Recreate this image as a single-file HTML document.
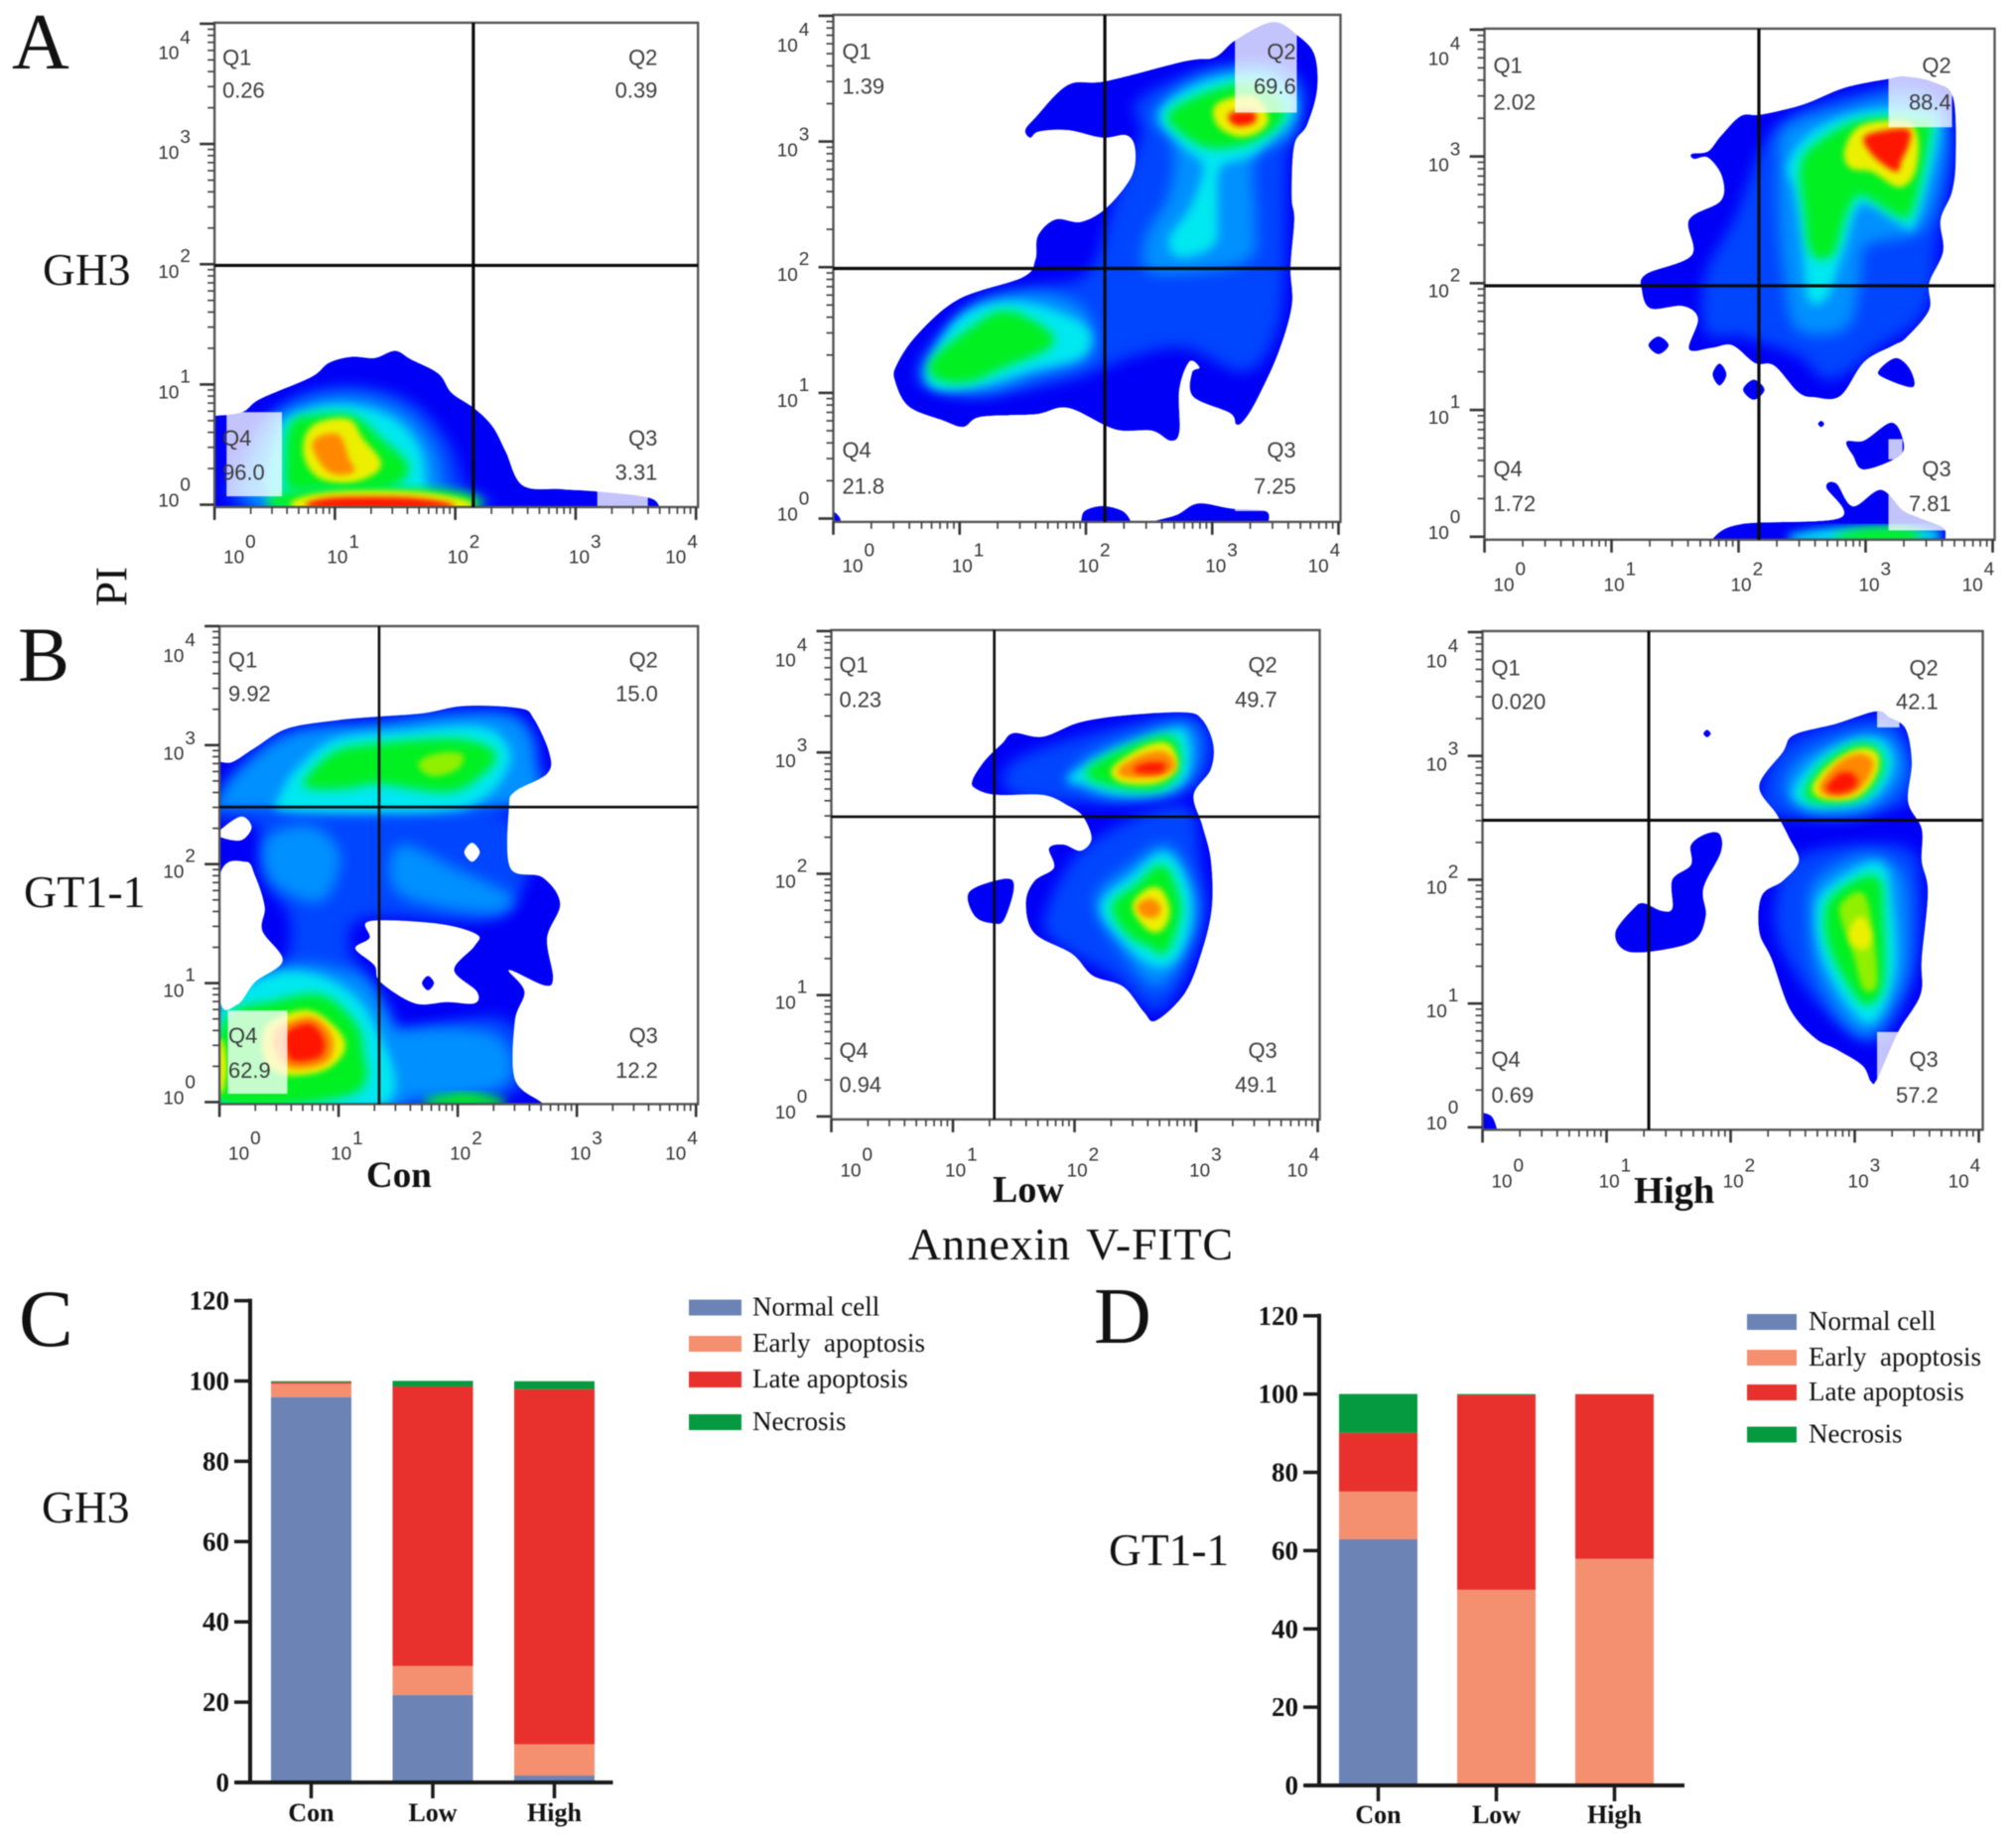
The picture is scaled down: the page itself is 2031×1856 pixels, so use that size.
<!DOCTYPE html>
<html lang="en">
<head>
<meta charset="utf-8">
<title>Flow cytometry apoptosis panels</title>
<style>
html,body{margin:0;padding:0;background:#fff;}
svg{display:block;filter:blur(0.6px);}
.serif{font-family:"Liberation Serif",serif;fill:#111;}
.sans{font-family:"Liberation Sans",sans-serif;}
.pre{white-space:pre;}
</style>
</head>
<body>
<svg id="figure" xmlns="http://www.w3.org/2000/svg" width="2031" height="1856" viewBox="0 0 2031 1856">
<defs>
<filter id="blur-a" x="-50%" y="-50%" width="200%" height="200%"><feGaussianBlur stdDeviation="7"/></filter>
<filter id="blur-b" x="-50%" y="-50%" width="200%" height="200%"><feGaussianBlur stdDeviation="5"/></filter>
<filter id="blur-c" x="-50%" y="-50%" width="200%" height="200%"><feGaussianBlur stdDeviation="3"/></filter>
</defs>
<rect x="0" y="0" width="2031" height="1856" fill="#fff"/>
<g id="flow-layer"></g>
<g id="bar-layer"></g>
<text class="serif" x="12" y="69" font-size="80">A</text>
<text class="serif" x="18" y="686" font-size="78">B</text>
<text class="serif" x="19" y="1356" font-size="82">C</text>
<text class="serif" x="1102" y="1353" font-size="80">D</text>
<text class="serif" x="43" y="287" font-size="45.5">GH3</text>
<text class="serif" x="24" y="914" font-size="46">GT1-1</text>
<text class="serif" x="42" y="1534" font-size="45.5">GH3</text>
<text class="serif" x="1117" y="1577" font-size="45.5">GT1-1</text>
<text class="serif" x="0" y="0" font-size="45" text-anchor="middle" transform="translate(127.5 591) rotate(-90)">PI</text>
<text class="serif" x="369" y="1196" font-size="37" font-weight="bold">Con</text>
<text class="serif" x="1000" y="1211" font-size="38" font-weight="bold">Low</text>
<text class="serif" x="1646" y="1212" font-size="38.5" font-weight="bold">High</text>
<text class="serif" x="915" y="1269" font-size="46" word-spacing="4" textLength="327">Annexin V-FITC</text>
</svg>
<script>
/* ---------- stacked bar data (percent of cells) ---------- */
const barCategories = ['Con', 'Low', 'High'];
const barSeriesNames = ['Normal cell', 'Early  apoptosis', 'Late apoptosis', 'Necrosis'];
const barTicks = [0, 20, 40, 60, 80, 100, 120];
const gh3Normal = [96.0, 21.8, 1.72];
const gh3Early = [3.31, 7.25, 7.81];
const gh3Late = [0.39, 69.6, 88.4];
const gh3Necrosis = [0.26, 1.39, 2.02];
const gt1Normal = [62.9, 0, 0];
const gt1Early = [12.2, 50.0, 57.9];
const gt1Late = [15.0, 49.77, 42.08];
const gt1Necrosis = [9.92, 0.23, 0.02];

/* ---------- flow plot data: decades on both axes (log10) ---------- */
const logTicks = [0, 1, 2, 3, 4];
const a1Percent = ['0.26', '0.39', '3.31', '96.0'];
const a2Percent = ['1.39', '69.6', '7.25', '21.8'];
const a3Percent = ['2.02', '88.4', '7.81', '1.72'];
const b1Percent = ['9.92', '15.0', '12.2', '62.9'];
const b2Percent = ['0.23', '49.7', '49.1', '0.94'];
const b3Percent = ['0.020', '42.1', '57.2', '0.69'];
const a1Gate = [2.15, 1.99];
const a2Gate = [2.15, 1.99];
const a3Gate = [2.16, 1.98];
const b1Gate = [1.34, 2.48];
const b2Gate = [1.34, 2.47];
const b3Gate = [1.34, 2.48];

const a1Outer = [
 [[-.1,-.1],[-.1,.74],[0,.74],[.23,.77],[.38,.88],[.8,1.06],[.95,1.18],[1.14,1.23],[1.33,1.22],[1.5,1.28],[1.63,1.21],[1.86,1.09],[1.97,.93],[2.16,.8],[2.31,.65],[2.42,.44],[2.56,.16],[2.88,.13],[3.18,.11],[3.6,.06],[3.7,-.02],[3.72,-.1]]
];
const a1Levels = [
 ['a',[[.27,-.02],[.34,.54],[.68,.87],[1.17,.96],[1.63,.83],[1.93,.5],[2.05,.15],[2.16,-.02]]],
 ['b',[[.4,-.02],[.42,.58],[.72,.82],[1.15,.88],[1.55,.76],[1.8,.47],[1.9,.1],[2.08,-.02]]],
 ['c',[[.57,-.02],[.55,.6],[.8,.77],[1.14,.8],[1.48,.69],[1.69,.44],[1.76,.08],[2,-.02]]],
 ['g',[[.61,.28],[.64,.64],[.8,.72],[1.14,.72],[1.36,.54],[1.59,.31],[1.4,.15],[.87,.15],[.64,.15]]],
 ['y',[[.76,.44],[.83,.64],[1.1,.69],[1.21,.54],[1.36,.33],[1.14,.21],[.87,.25]]],
 ['o',[[.83,.51],[1.02,.57],[1.1,.38],[1.14,.28],[.95,.29]]],
 ['g',[[.57,-.02],[.72,.1],[1.9,.1],[2.1,-.02]]],
 ['y',[[.72,-.02],[.95,.08],[1.71,.08],[2.08,-.02]]],
 ['r',[[.83,-.02],[.98,.05],[1.63,.05],[1.95,-.02]]]
];
const a1Holes = [];
const a1Islands = [];
const a1Boxes = [[.1,.07,.56,.77],[3.18,-.02,3.6,.12]];

const a2Outer = [
 [[1.52,3.09],[1.6,3.19],[1.86,3.45],[2.16,3.48],[2.79,3.64],[3.02,3.67],[3.19,3.81],[3.48,3.95],[3.68,3.84],[3.81,3.69],[3.83,3.41],[3.75,3.13],[3.65,2.97],[3.63,2.56],[3.65,2.38],[3.62,2],[3.63,1.69],[3.52,1.31],[3.35,.94],[3.25,.78],[3.19,.75],[3.14,.84],[2.85,.97],[2.84,1.16],[2.9,1.2],[2.82,1.25],[2.74,1.03],[2.74,.69],[2.67,.62],[2.52,.7],[2.23,.71],[1.86,.88],[1.6,.83],[1.17,.81],[1.03,.73],[.87,.78],[.6,.89],[.49,1.09],[.5,1.22],[.67,1.47],[1,1.75],[1.5,1.92],[1.6,2.06],[1.62,2.25],[1.76,2.38],[1.96,2.36],[2.16,2.47],[2.36,2.72],[2.39,2.94],[2.32,3.05],[2.13,3.03],[1.86,3.09],[1.63,3.08],[1.56,3.03]],
 [[1.94,-.1],[1.96,-.03],[1.99,.06],[2.13,.1],[2.29,.06],[2.36,-.03],[2.38,-.1]],
 [[2.5,-.1],[2.52,-.03],[2.72,.03],[2.89,.12],[3.15,.08],[3.42,.06],[3.45,-.03],[3.47,-.1]],
 [[-.03,-.03],[0,.05],[.05,.01],[.05,-.03]]
];
const a2Levels = [
 ['a',[[.7,1.19],[1.1,1.66],[1.56,1.81],[2.03,1.94],[2.26,2.56],[2.46,3.06],[2.42,3.31],[2.89,3.53],[3.48,3.59],[3.72,3.38],[3.58,3.03],[3.55,1.94],[3.48,1.47],[3.25,1.19],[2.79,1.38],[2.36,1.31],[1.89,1.13],[1.2,1],[.83,1.03]]],
 ['b',[[.74,1.22],[1.1,1.66],[1.56,1.78],[1.96,1.66],[2.03,1.31],[1.63,1.16],[1.2,1.03],[.83,1.09]]],
 ['b',[[2.56,3.22],[2.92,3.5],[3.48,3.56],[3.66,3.31],[3.62,3.06],[3.32,2.88],[3.32,2.38],[3.25,2.06],[2.55,1.98],[2.49,2.22],[2.66,2.53],[2.72,2.81],[2.69,3.03]]],
 ['c',[[.77,1.19],[1.03,1.59],[1.46,1.7],[1.96,1.53],[1.96,1.31],[1.56,1.2],[1.17,1.08],[.83,1.05]]],
 ['g',[[.8,1.25],[1.1,1.5],[1.36,1.63],[1.66,1.5],[1.7,1.38],[1.36,1.23],[1.07,1.11],[.83,1.13]]],
 ['c',[[2.61,3.22],[2.95,3.45],[3.42,3.5],[3.63,3.25],[3.32,2.92],[3.05,2.81],[3.02,2.47],[3,2.2],[2.76,2.1],[2.68,2.22],[2.85,2.47],[2.95,2.81],[2.79,2.97]]],
 ['g',[[2.68,3.22],[2.99,3.38],[3.35,3.44],[3.55,3.22],[3.32,3.02],[2.99,2.97],[2.76,3.09]]],
 ['y',[[3.05,3.28],[3.32,3.34],[3.42,3.16],[3.25,3.06],[3.07,3.13]]],
 ['r',[[3.15,3.22],[3.32,3.23],[3.33,3.16],[3.22,3.13],[3.15,3.16]]]
];
const a2Holes = [];
const a2Islands = [];
const a2Boxes = [[3.18,3.23,3.67,4],[3.18,.06,3.42,.14]];

const a3Outer = [
 [[1.63,3.02],[1.76,3.04],[1.86,3.16],[2.02,3.32],[2.18,3.33],[2.51,3.41],[2.83,3.54],[3.17,3.61],[3.32,3.63],[3.55,3.58],[3.69,3.46],[3.71,2.99],[3.68,2.72],[3.59,2.5],[3.61,2.25],[3.5,2],[3.5,1.79],[3.32,1.57],[3.22,1.51],[2.99,1.38],[2.8,1.11],[2.6,1.1],[2.47,1.14],[2.28,1.35],[2.13,1.37],[1.95,1.51],[1.79,1.49],[1.61,1.48],[1.68,1.72],[1.56,1.82],[1.31,1.8],[1.24,1.94],[1.27,2.07],[1.63,2.22],[1.61,2.5],[1.86,2.65],[1.87,2.84],[1.76,2.99],[1.65,2.98]],
 [[1.29,1.51],[1.37,1.58],[1.45,1.51],[1.37,1.44]],
 [[1.795,1.28],[1.85,1.367],[1.905,1.28],[1.85,1.193]],
 [[2.035,1.16],[2.12,1.24],[2.205,1.16],[2.12,1.08]],
 [[3.11,1.32],[3.24,1.41],[3.35,1.32],[3.37,1.18],[3.13,1.26]],
 [[2.625,.89],[2.65,.915],[2.675,.89],[2.65,.865]],
 [[2.85,.75],[2.99,.76],[3.2,.9],[3.29,.78],[3.27,.64],[2.99,.53],[2.9,.64]],
 [[1.77,-.1],[1.79,-.02],[2.02,.1],[2.8,.15],[2.69,.39],[2.77,.42],[2.9,.24],[3.12,.37],[3.29,.21],[3.42,.15],[3.61,.07],[3.63,-.02],[3.65,-.1]]
];
const a3Levels = [
 ['a',[[1.76,2.07],[1.99,2.5],[2.31,3.21],[2.99,3.49],[3.48,3.49],[3.65,2.99],[3.55,2.38],[3.45,1.79],[3.09,1.51],[2.73,1.26],[2.47,1.45],[2.02,1.6],[1.76,1.63]]],
 ['b',[[2.34,2.93],[2.38,3.21],[2.83,3.37],[3.32,3.46],[3.61,3.33],[3.58,2.87],[3.42,2.44],[2.99,2.31],[2.93,2],[2.83,1.66],[2.47,1.66],[2.38,2.07],[2.34,2.5]]],
 ['c',[[2.41,2.93],[2.6,3.18],[2.99,3.33],[3.45,3.33],[3.55,3.18],[3.38,2.5],[3.29,2.48],[2.96,2.65],[2.82,2.31],[2.72,2],[2.66,1.88],[2.57,1.88],[2.54,2.13],[2.5,2.5],[2.46,2.75]]],
 ['g',[[2.51,2.93],[2.67,3.12],[2.99,3.27],[3.45,3.27],[3.48,3.15],[3.35,2.59],[3.25,2.56],[2.96,2.72],[2.83,2.56],[2.73,2.25],[2.59,2.25],[2.54,2.56]]],
 ['y',[[2.86,3.06],[2.99,3.23],[3.35,3.23],[3.38,2.93],[3.27,2.78],[3.06,2.9],[2.89,2.93]]],
 ['r',[[3.01,3.16],[3.32,3.21],[3.33,3.09],[3.27,2.96],[3.25,2.89],[3.16,2.93],[3.04,3.04]]],
 ['c',[[2.44,-.02],[2.77,.05],[3.45,.05],[3.48,-.02]]],
 ['g',[[2.8,-.02],[2.99,.04],[3.29,.05],[3.38,-.02]]]
];
const a3Holes = [];
const a3Islands = [];
const a3Boxes = [[3.18,3.23,3.68,3.66],[3.18,.61,3.29,.77],[3.18,.05,3.65,.37]];

const b1Outer = [
 [[-.1,-.1],[-.1,2.86],[0,2.86],[.11,2.86],[.3,2.98],[.57,3.14],[.99,3.21],[1.33,3.24],[1.72,3.27],[2.06,3.33],[2.52,3.31],[2.64,3.22],[2.77,2.93],[2.75,2.76],[2.48,2.61],[2.43,2.47],[2.44,1.97],[2.71,1.89],[2.86,1.67],[2.75,1.38],[2.8,1.05],[2.73,.98],[2.43,1.11],[2.56,.93],[2.48,.68],[2.48,.19],[2.71,-.01],[2.73,-.1]]
];
const b1Levels = [
 ['a',[[.07,2.4],[2.37,2.4],[2.37,1.6],[1.22,1.57],[1.07,1.27],[1.22,1.03],[1.3,.55],[2.37,.68],[2.41,.09],[0,0],[0,.78],[.53,1.11],[.61,1.55],[.41,1.87],[.34,2.33]]],
 ['b',[[.41,2.2],[.76,2.3],[.99,2.07],[.84,1.71],[.45,1.87]]],
 ['b',[[1.52,2.14],[1.98,1.94],[2.44,1.71],[2.21,1.61],[1.52,1.77]]],
 ['b',[[1.45,.55],[2.29,.55],[2.37,.155],[1.52,.09]]],
 ['b',[[0,2.53],[.15,2.76],[.6,3.09],[1.33,3.17],[1.98,3.25],[2.48,3.22],[2.64,2.89],[2.41,2.5],[0,2.47]]],
 ['c',[[.53,2.56],[.68,2.8],[.99,3.03],[1.52,3.09],[2.18,3.13],[2.41,2.96],[2.37,2.76],[2.18,2.56],[1.83,2.47],[.61,2.47]]],
 ['g',[[.76,2.73],[.99,2.93],[1.33,2.99],[1.98,3.03],[2.29,2.93],[2.18,2.76],[1.91,2.63],[1.33,2.7],[1.07,2.66],[.76,2.66]]],
 ['l',[[1.69,2.84],[1.83,2.91],[2.02,2.91],[1.98,2.81],[1.79,2.76]]],
 ['b',[[0,.85],[.45,1.11],[.95,1.11],[1.33,.88],[1.52,0],[0,0]]],
 ['c',[[0,.72],[.45,1.05],[.91,1.01],[1.26,.68],[1.37,0],[0,0]]],
 ['g',[[.07,.68],[.45,.82],[.84,.88],[1.1,.68],[1.18,.45],[1.1,.09],[0,.02]]],
 ['g',[[1.75,-.01],[2.06,.06],[2.37,-.01]]],
 ['y',[[.41,.62],[.72,.75],[.95,.62],[1.03,.45],[.87,.29],[.57,.25],[.41,.35]]],
 ['y',[[0,.5],[.04,.3],[0,.1]]],
 ['o',[[.49,.6],[.76,.7],[.93,.55],[.89,.35],[.61,.3],[.49,.42]]],
 ['r',[[.57,.58],[.76,.65],[.87,.52],[.84,.39],[.64,.35],[.57,.42]]]
];
const b1Holes = [
 [[0,2.28],[.18,2.4],[.27,2.31],[.18,2.2],[0,2.23]],
 [[0,1.89],[.22,2.02],[.3,1.9],[.38,1.64],[.36,1.44],[.53,1.19],[.3,1.01],[.15,.82],[0,.88]],
 [[1.26,1.52],[1.83,1.5],[2.16,1.41],[2.14,1.31],[1.97,1.11],[2.16,.93],[2.14,.83],[1.91,.84],[1.64,.83],[1.35,1.01],[1.3,1.15],[1.14,1.29],[1.26,1.38]],
 [[2.055,2.1],[2.12,2.18],[2.185,2.1],[2.12,2.02]]
];
const b1Islands = [[[1.7,1],[1.75,1.06],[1.8,1],[1.75,.94]]];
const b1Boxes = [[.07,.07,.57,.77]];

const b2Outer = [
 [[1.16,2.77],[1.26,2.93],[1.4,3.07],[1.5,3.16],[1.74,3.13],[2.05,3.25],[2.46,3.31],[2.91,3.33],[3.05,3.27],[3.14,3.07],[3.12,2.86],[2.98,2.65],[3.05,2.4],[3.12,2.12],[3.13,1.73],[3.05,1.37],[2.91,1.02],[2.67,.79],[2.57,.86],[2.4,1.07],[2.15,1.16],[1.98,1.34],[1.67,1.51],[1.6,1.76],[1.67,1.94],[1.83,2.05],[1.79,2.21],[1.91,2.24],[2.05,2.19],[2.14,2.29],[2.07,2.47],[1.95,2.56],[1.74,2.65],[1.36,2.65],[1.19,2.7]],
 [[1.12,1.8],[1.19,1.89],[1.45,1.96],[1.5,1.87],[1.42,1.62],[1.33,1.59],[1.19,1.64]]
];
const b2Levels = [
 ['a',[[1.5,2.9],[2.05,3.11],[2.81,3.27],[3.08,3.18],[3.05,2.83],[2.77,2.65],[2.12,2.61],[1.5,2.68]]],
 ['b',[[1.98,2.79],[2.19,2.99],[2.81,3.22],[2.98,3.15],[2.98,2.9],[2.77,2.69],[2.29,2.65],[2.02,2.76]]],
 ['c',[[1.98,2.79],[2.33,2.99],[2.81,3.16],[2.91,3.11],[2.91,2.83],[2.74,2.7],[2.36,2.68],[2.05,2.77]]],
 ['g',[[2.12,2.84],[2.46,3.03],[2.79,3.11],[2.84,2.86],[2.67,2.72],[2.33,2.74]]],
 ['y',[[2.33,2.86],[2.57,3.02],[2.76,3.05],[2.82,2.88],[2.67,2.77],[2.41,2.77]]],
 ['o',[[2.38,2.86],[2.57,2.97],[2.74,2.99],[2.81,2.88],[2.67,2.81],[2.43,2.81]]],
 ['r',[[2.5,2.87],[2.62,2.91],[2.74,2.9],[2.7,2.84],[2.53,2.84]]],
 ['a',[[1.78,1.66],[2.12,2.22],[2.88,2.54],[3.01,2.08],[3.05,1.69],[2.91,1.2],[2.67,.89],[2.36,1.16],[1.88,1.44]]],
 ['b',[[2.19,1.76],[2.46,2.05],[2.74,2.22],[2.91,2.01],[2.99,1.66],[2.84,1.27],[2.67,1.09],[2.46,1.3]]],
 ['c',[[2.24,1.73],[2.5,1.98],[2.74,2.15],[2.91,1.9],[2.93,1.59],[2.81,1.3],[2.64,1.27],[2.43,1.44]]],
 ['g',[[2.33,1.73],[2.53,1.9],[2.72,2.05],[2.84,1.8],[2.84,1.62],[2.74,1.37],[2.64,1.41],[2.46,1.51]]],
 ['y',[[2.5,1.73],[2.6,1.85],[2.7,1.85],[2.76,1.69],[2.7,1.55],[2.6,1.57]]],
 ['o',[[2.53,1.73],[2.62,1.78],[2.69,1.73],[2.67,1.66],[2.58,1.66]]]
];
const b2Holes = [];
const b2Islands = [];
const b2Boxes = [];

const b3Outer = [
 [[2.23,2.76],[2.42,3.03],[2.51,3.17],[2.85,3.26],[3.17,3.36],[3.28,3.31],[3.41,3.22],[3.46,2.95],[3.43,2.63],[3.54,2.41],[3.54,2.15],[3.59,1.9],[3.54,1.36],[3.53,1.07],[3.35,.77],[3.18,.39],[3.13,.37],[3.06,.5],[2.85,.63],[2.68,.72],[2.48,.95],[2.33,1.36],[2.23,1.58],[2.25,1.87],[2.42,1.99],[2.55,2.15],[2.47,2.34],[2.37,2.53]],
 [[1.07,1.57],[1.22,1.77],[1.3,1.81],[1.44,1.75],[1.53,1.77],[1.53,2],[1.68,2.12],[1.68,2.28],[1.8,2.37],[1.91,2.37],[1.92,2.22],[1.78,1.93],[1.8,1.71],[1.72,1.52],[1.49,1.44],[1.17,1.42]],
 [[1.78,3.18],[1.81,3.21],[1.84,3.18],[1.81,3.15]],
 [[-.1,-.1],[-.1,.1],[.06,.1],[.12,-.02],[.14,-.1]]
];
const b3Levels = [
 ['a',[[2.28,2.76],[2.51,3.12],[3.17,3.29],[3.39,3.14],[3.38,2.63],[2.42,2.53]]],
 ['b',[[2.45,2.76],[2.62,3],[3.05,3.17],[3.31,3.11],[3.36,2.83],[3.08,2.57],[2.62,2.57]]],
 ['c',[[2.53,2.72],[2.71,2.95],[2.98,3.1],[3.21,3.1],[3.28,2.91],[3.11,2.66],[2.75,2.6],[2.58,2.63]]],
 ['g',[[2.62,2.72],[2.75,2.91],[2.98,3.06],[3.14,3.06],[3.21,2.91],[3.06,2.69],[2.81,2.64],[2.65,2.66]]],
 ['y',[[2.68,2.74],[2.81,2.91],[3.01,3.03],[3.16,3.01],[3.15,2.85],[3.01,2.69],[2.78,2.67]]],
 ['o',[[2.73,2.75],[2.85,2.91],[3.01,3],[3.13,2.96],[3.1,2.83],[2.98,2.71],[2.8,2.69]]],
 ['r',[[2.78,2.75],[2.88,2.85],[2.98,2.85],[3.01,2.77],[2.91,2.71],[2.81,2.71]]],
 ['a',[[2.38,1.8],[2.58,2.18],[3.38,2.25],[3.51,1.93],[3.48,1.36],[3.38,1.04],[3.15,.72],[2.78,.95],[2.45,1.42]]],
 ['b',[[2.65,1.68],[2.71,1.99],[3.08,2.18],[3.35,2.06],[3.41,1.68],[3.38,1.2],[3.15,.79],[2.95,.85],[2.71,1.26]]],
 ['c',[[2.71,1.68],[2.78,1.9],[3.18,2.12],[3.28,1.8],[3.3,1.26],[3.15,.88],[2.98,.98],[2.78,1.33]]],
 ['g',[[2.78,1.68],[2.85,1.87],[3.16,2.01],[3.21,1.68],[3.21,1.17],[3.1,1.01],[2.98,1.14],[2.83,1.42]]],
 ['l',[[2.91,1.68],[2.91,1.8],[3.06,1.87],[3.13,1.55],[3.16,1.17],[3.08,1.14],[3.01,1.39]]],
 ['y',[[2.98,1.58],[3.05,1.68],[3.11,1.55],[3.08,1.46],[3,1.49]]]
];
const b3Holes = [];
const b3Islands = [];
const b3Boxes = [[3.18,3.23,3.36,3.37],[3.18,.37,3.36,.77]];

/* ---------- drawing ---------- */
const NS = 'http://www.w3.org/2000/svg';
const levelColors = {a:'#0044ff', b:'#0090ff', c:'#00e8f0', g:'#00f020', l:'#90f000', y:'#ecf000', o:'#ff8800', r:'#ff1800'};
const levelBlur = {a:'blur-a', b:'blur-a', c:'blur-b', g:'blur-b', l:'blur-c', y:'blur-c', o:'blur-c', r:'blur-c'};
const levelGrow = {a:6, b:6, c:6, g:6, l:5, y:6, o:4, r:2};
const minorSteps = [2, 3, 4, 5, 6, 7, 8, 9];
const xLabelShift = [9, -8, -8, -7, -31];
const yLabelShift = [2, 14, 14, 15, 36];

function make(tag, parent, attrs, text) {
  const el = document.createElementNS(NS, tag);
  for (const k in attrs) el.setAttribute(k, attrs[k]);
  if (text !== undefined) el.textContent = text;
  parent.appendChild(el);
  return el;
}

function smooth(points, sx, sy) {
  const p = points.map(q => [sx(q[0]), sy(q[1])]);
  const n = p.length;
  let d = 'M' + p[0][0].toFixed(1) + ' ' + p[0][1].toFixed(1);
  for (let i = 0; i < n; i++) {
    const p0 = p[(i - 1 + n) % n], p1 = p[i], p2 = p[(i + 1) % n], p3 = p[(i + 2) % n];
    const c1x = p1[0] + (p2[0] - p0[0]) / 6, c1y = p1[1] + (p2[1] - p0[1]) / 6;
    const c2x = p2[0] - (p3[0] - p1[0]) / 6, c2y = p2[1] - (p3[1] - p1[1]) / 6;
    d += 'C' + c1x.toFixed(1) + ' ' + c1y.toFixed(1) + ' ' + c2x.toFixed(1) + ' ' + c2y.toFixed(1) + ' ' + p2[0].toFixed(1) + ' ' + p2[1].toFixed(1);
  }
  return d + 'Z';
}

function drawFlowPlot(cfg) {
  const layer = document.getElementById('flow-layer');
  const sx = v => cfg.xt[0] + (cfg.xt[1] - cfg.xt[0]) * v / 4;
  const sy = v => cfg.yt[0] + (cfg.yt[1] - cfg.yt[0]) * v / 4;
  const g = make('g', layer, {transform: 'translate(' + (cfg.origin[0] + cfg.shift[0]) + ' ' + (cfg.origin[1] + cfg.shift[1]) + ') scale(0.996) translate(' + (-cfg.origin[0]) + ' ' + (-cfg.origin[1]) + ')'});
  
  

  const defs = make('defs', g, {});
  const clip = make('clipPath', defs, {id: 'clip-' + cfg.id});
  cfg.outer.forEach(poly => make('path', clip, {d: smooth(poly, sx, sy)}));
  const frameClip = make('clipPath', defs, {id: 'frame-' + cfg.id});
  make('rect', frameClip, {x: cfg.fx[0], y: cfg.fy[0], width: cfg.fx[1] - cfg.fx[0], height: cfg.fy[1] - cfg.fy[0]});

  const framed = make('g', g, {'clip-path': 'url(#frame-' + cfg.id + ')'});
  
  
  const density = make('g', framed, {'clip-path': 'url(#clip-' + cfg.id + ')'});
  
  

  cfg.outer.forEach(poly => {
    const o = make('path', density, {d: smooth(poly, sx, sy), fill: '#0000f6'});
    
    
  });
  cfg.levels.forEach(level => {
    const color = levelColors[level[0]];
    const l = make('path', density, {d: smooth(level[1], sx, sy), fill: color, stroke: color, 'stroke-width': levelGrow[level[0]], filter: 'url(#' + levelBlur[level[0]] + ')'});
    
    
  });
  cfg.holes.forEach(poly => {
    const h = make('path', density, {d: smooth(poly, sx, sy), fill: '#fff'});
    
    
  });
  cfg.islands.forEach(poly => {
    const i = make('path', density, {d: smooth(poly, sx, sy), fill: '#0000f6'});
    
    
  });
  cfg.boxes.forEach(b => {
    const r = make('rect', density, {x: sx(b[0]), y: sy(b[3]), width: sx(b[2]) - sx(b[0]), height: sy(b[1]) - sy(b[3]), fill: '#fff', 'fill-opacity': 0.77});
    
    
  });

  const frame = make('rect', g, {x: cfg.fx[0], y: cfg.fy[0], width: cfg.fx[1] - cfg.fx[0], height: cfg.fy[1] - cfg.fy[0], fill: 'none', stroke: '#555', 'stroke-width': 2.4});
  
  

  const vGate = make('line', g, {x1: sx(cfg.gate[0]), x2: sx(cfg.gate[0]), y1: cfg.fy[0], y2: cfg.fy[1], stroke: '#0a0a0a', 'stroke-width': cfg.gateWidth});
  
  
  const hGate = make('line', g, {x1: cfg.fx[0], x2: cfg.fx[1], y1: sy(cfg.gate[1]), y2: sy(cfg.gate[1]), stroke: '#0a0a0a', 'stroke-width': cfg.gateWidth});
  
  

  logTicks.forEach((t, i) => {
    const xt = make('line', g, {x1: sx(t), x2: sx(t), y1: cfg.fy[1], y2: cfg.fy[1] + 13, stroke: '#333', 'stroke-width': 2.6});
    
    
    const yt = make('line', g, {x1: cfg.fx[0] - 15, x2: cfg.fx[0], y1: sy(t), y2: sy(t), stroke: '#333', 'stroke-width': 2.6});
    
    

    const xl = make('text', g, {x: sx(t) + xLabelShift[i], y: cfg.xLabelY, 'font-size': 19, fill: '#333', class: 'sans'});
    
    
    xl.appendChild(document.createTextNode('10'));
    make('tspan', xl, {dy: -16, dx: 1}, String(t));

    const yl = make('text', g, {x: cfg.fx[0] - 57, y: sy(t) + yLabelShift[i], 'font-size': 19, fill: '#333', class: 'sans'});
    
    
    yl.appendChild(document.createTextNode('10'));
    make('tspan', yl, {dy: -16, dx: 1}, String(t));

    if (t < 4) {
      minorSteps.forEach(m => {
        const pos = t + Math.log10(m);
        const mx = make('line', g, {x1: sx(pos), x2: sx(pos), y1: cfg.fy[1], y2: cfg.fy[1] + 7, stroke: '#444', 'stroke-width': 1.7});
        
        
        const my = make('line', g, {x1: cfg.fx[0] - 7, x2: cfg.fx[0], y1: sy(pos), y2: sy(pos), stroke: '#444', 'stroke-width': 1.7});
        
        
      });
    }
  });

  const labelStyle = {'font-size': 22, fill: '#3c3c3c', class: 'sans'};
  [['Q1', 0, cfg.qLeft, 0, 'start'], ['Q2', 1, cfg.qRight, 0, 'end'], ['Q3', 2, cfg.qRight, 2, 'end'], ['Q4', 3, cfg.qLeft, 2, 'start']].forEach(q => {
    const name = make('text', g, Object.assign({x: q[2], y: cfg.qRows[q[3]], 'text-anchor': q[4]}, labelStyle), q[0]);
    
    
    const val = make('text', g, Object.assign({x: q[2], y: cfg.qRows[q[3] + 1], 'text-anchor': q[4]}, labelStyle), cfg.percent[q[1]]);
    
    
  });
}

[
 {id:'a1', origin:[0,0], shift:[0,0], fx:[217,706], fy:[23,513], xt:[217,704], yt:[510.6,24], xLabelY:570, gateWidth:3.2, qLeft:225, qRight:665, qRows:[65.6,99,451,485.6], gate:a1Gate, percent:a1Percent, outer:a1Outer, levels:a1Levels, holes:a1Holes, islands:a1Islands, boxes:a1Boxes},
 {id:'a2', origin:[720,0], shift:[-2,0], fx:[842,1355], fy:[15,528], xt:[842,1353], yt:[524.6,16], xLabelY:579, gateWidth:3.2, qLeft:851, qRight:1310, qRows:[60,95,463,499.5], gate:a2Gate, percent:a2Percent, outer:a2Outer, levels:a2Levels, holes:a2Holes, islands:a2Islands, boxes:a2Boxes},
 {id:'a3', origin:[1380,0], shift:[0,0], fx:[1496,2012], fy:[29,546], xt:[1496,2010], yt:[543,30], xLabelY:598, gateWidth:3.2, qLeft:1505, qRight:1968, qRows:[74,111,482,517], gate:a3Gate, percent:a3Percent, outer:a3Outer, levels:a3Levels, holes:a3Holes, islands:a3Islands, boxes:a3Boxes},
 {id:'b1', origin:[0,610], shift:[0,-1], fx:[222,706], fy:[632,1115.5], xt:[222,704], yt:[1113.5,632], xLabelY:1172, gateWidth:2.6, qLeft:231, qRight:665.5, qRows:[673.6,708,1054,1089], gate:b1Gate, percent:b1Percent, outer:b1Outer, levels:b1Levels, holes:b1Holes, islands:b1Islands, boxes:b1Boxes},
 {id:'b2', origin:[720,610], shift:[-2,0], fx:[840,1334], fy:[635,1130], xt:[840,1332], yt:[1127,636], xLabelY:1188, gateWidth:2.6, qLeft:848, qRight:1291, qRows:[678,713,1068,1102.6], gate:b2Gate, percent:b2Percent, outer:b2Outer, levels:b2Levels, holes:b2Holes, islands:b2Islands, boxes:b2Boxes},
 {id:'b3', origin:[1380,610], shift:[0,0], fx:[1494,2000], fy:[636,1140.5], xt:[1494,1996], yt:[1138,637], xLabelY:1199, gateWidth:3, qLeft:1503, qRight:1955, qRows:[681,715,1077,1113], gate:b3Gate, percent:b3Percent, outer:b3Outer, levels:b3Levels, holes:b3Holes, islands:b3Islands, boxes:b3Boxes}
].forEach(drawFlowPlot);

const barColors = ['#6b84b5', '#f48f70', '#e8302c', '#069a40'];

function drawBarChart(cfg) {
  const layer = document.getElementById('bar-layer');
  const g = make('g', layer, {});
  
  
  const sy = v => cfg.y0 + (cfg.y120 - cfg.y0) * v / 120;
  const sx = i => cfg.firstX + cfg.stepX * i;

  barCategories.forEach((cat, i) => {
    let base = 0;
    cfg.series.forEach((values, s) => {
      const top = base + values[i];
      const rect = make('rect', g, {x: sx(i) - cfg.barW / 2, y: sy(top), width: cfg.barW, height: sy(base) - sy(top), fill: barColors[s]});
      
      
      base = top;
    });
    const tick = make('line', g, {x1: sx(i), x2: sx(i), y1: cfg.y0, y2: cfg.y0 + 16, stroke: '#1a1a1a', 'stroke-width': 3.5});
    
    
    const label = make('text', g, {x: sx(i), y: cfg.xLabelY, 'font-size': 26, 'font-weight': 'bold', 'text-anchor': 'middle', class: 'serif'}, cat);
    
    
  });

  const yAxis = make('line', g, {x1: cfg.axisX, x2: cfg.axisX, y1: sy(120) - 2, y2: cfg.y0 + 2, stroke: '#1a1a1a', 'stroke-width': 4});
  
  
  const xAxis = make('line', g, {x1: cfg.axisX - 15, x2: cfg.axisEnd, y1: cfg.y0, y2: cfg.y0, stroke: '#1a1a1a', 'stroke-width': 4});
  
  

  barTicks.forEach(t => {
    const tick = make('line', g, {x1: cfg.axisX - 16, x2: cfg.axisX, y1: sy(t), y2: sy(t), stroke: '#1a1a1a', 'stroke-width': 3.5});
    
    
    const label = make('text', g, {x: cfg.axisX - 21, y: sy(t) + 9, 'font-size': 27, 'font-weight': 'bold', 'text-anchor': 'end', class: 'serif'}, String(t));
    
    
  });

  barSeriesNames.forEach((name, s) => {
    const swatch = make('rect', g, {x: cfg.legendX, y: cfg.legendY[s] - 16, width: cfg.legendW, height: 16, fill: barColors[s]});
    
    
    const label = make('text', g, {x: cfg.legendTextX, y: cfg.legendY[s], 'font-size': 27, fill: '#222', class: 'serif pre'}, name);
    
    
  });
}

[
 {id:'gh3', series:[gh3Normal, gh3Early, gh3Late, gh3Necrosis], y0:1796, y120:1310.6, axisX:252, axisEnd:617.5, firstX:313.5, stepX:122.5, barW:81, xLabelY:1835, legendX:694, legendW:53, legendTextX:758, legendY:[1325.5,1362,1398,1441]},
 {id:'gt1-1', series:[gt1Normal, gt1Early, gt1Late, gt1Necrosis], y0:1799, y120:1325.8, axisX:1329, axisEnd:1697, firstX:1388.5, stepX:119, barW:79, xLabelY:1837, legendX:1760, legendW:50, legendTextX:1822, legendY:[1340,1376,1411,1453.5]}
].forEach(drawBarChart);
</script>
</body>
</html>
